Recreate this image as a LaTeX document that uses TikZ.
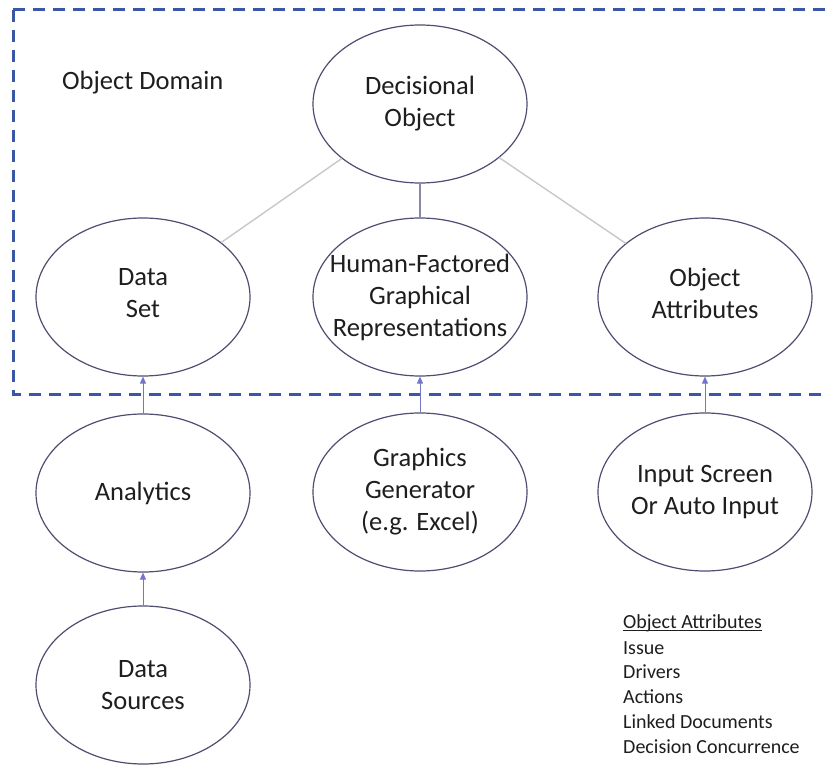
\documentclass[tikz,border=0pt]{standalone}
\usepackage{fontspec}
\setmainfont{Carlito}
\usetikzlibrary{shapes.geometric,arrows.meta}
\definecolor{rimblue}{HTML}{3B56A6}
\definecolor{ovalline}{HTML}{4E4E72}
\definecolor{arrowblue}{HTML}{7474C8}
\definecolor{linkgrey}{HTML}{C8C8C8}
\definecolor{stemgrey}{HTML}{8A8AA8}
\definecolor{ink}{HTML}{1E1E1E}
\begin{document}
\begin{tikzpicture}[x=1pt,y=-1pt,
  oval/.style={ellipse, draw=ovalline, line width=1.2pt,
    minimum width=214pt, minimum height=158pt, inner sep=0pt},
  txt/.style={align=center, inner sep=0pt, text=ink,
    font=\fontsize{26.5}{32}\selectfont},
  link/.style={draw=linkgrey, line width=1.4pt},
  stem/.style={draw=stemgrey, line width=1.2pt},
  feed/.style={draw=arrowblue, line width=0.9pt,
    -{Triangle[length=7pt,width=6pt]}},
  item/.style={anchor=west, inner sep=0pt, text=ink,
    font=\fontsize{20}{24}\selectfont}]

\useasboundingbox (0,0) rectangle (828,765);
\fill[white] (0,0) rectangle (828,765);

% domain boundary
\draw[rimblue, line width=3pt, dash pattern=on 12pt off 8pt]
  (13,10) rectangle (845,394);
\node[anchor=west, inner sep=0pt, text=ink,
  font=\fontsize{26.5}{32}\selectfont] (dom) at (62,83) {Object Domain};

% ovals
\node[oval, label={[txt]center:{Decisional\\Object}}] (dec) at (420,104) {};
\node[oval, label={[txt,yshift=4pt]center:{Data\\Set}}] (dset) at (143,297) {};
\node[oval, label={[txt]center:{Human-Factored\\Graphical\\Representations}}] (hfg) at (420,297) {};
\node[oval, label={[txt,yshift=4pt]center:{Object\\Attributes}}] (oatt) at (705,297) {};
\node[oval, label={[txt]center:{Analytics}}] (ana) at (143,493) {};
\node[oval, label={[txt]center:{Graphics\\Generator\\(e.g. Excel)}}] (gen) at (420,492) {};
\node[oval, label={[txt]center:{Input Screen\\Or Auto Input}}] (inp) at (705,492) {};
\node[oval, label={[txt]center:{Data\\Sources}}] (src) at (143,685) {};

% links inside the domain
\draw[link] (dec) -- (dset);
\draw[link] (dec) -- (oatt);
\draw[stem] (dec) -- (hfg);

% feeds from below
\draw[feed] (ana) -- (dset);
\draw[feed] (gen) -- (hfg);
\draw[feed] (inp) -- (oatt);
\draw[feed] (src) -- (ana);

% attribute list
\node[item] (l0) at (623,623) {Object Attributes};
\node[item] (l1) at (623,648) {Issue};
\node[item] (l2) at (623,672) {Drivers};
\node[item] (l3) at (623,697) {Actions};
\node[item] (l4) at (623,722) {Linked Documents};
\node[item] (l5) at (623,747) {Decision Concurrence};
\draw[ink, line width=1pt] ([yshift=-2.5pt]l0.base west) -- ([yshift=-2.5pt]l0.base east);

\end{tikzpicture}
\end{document}
